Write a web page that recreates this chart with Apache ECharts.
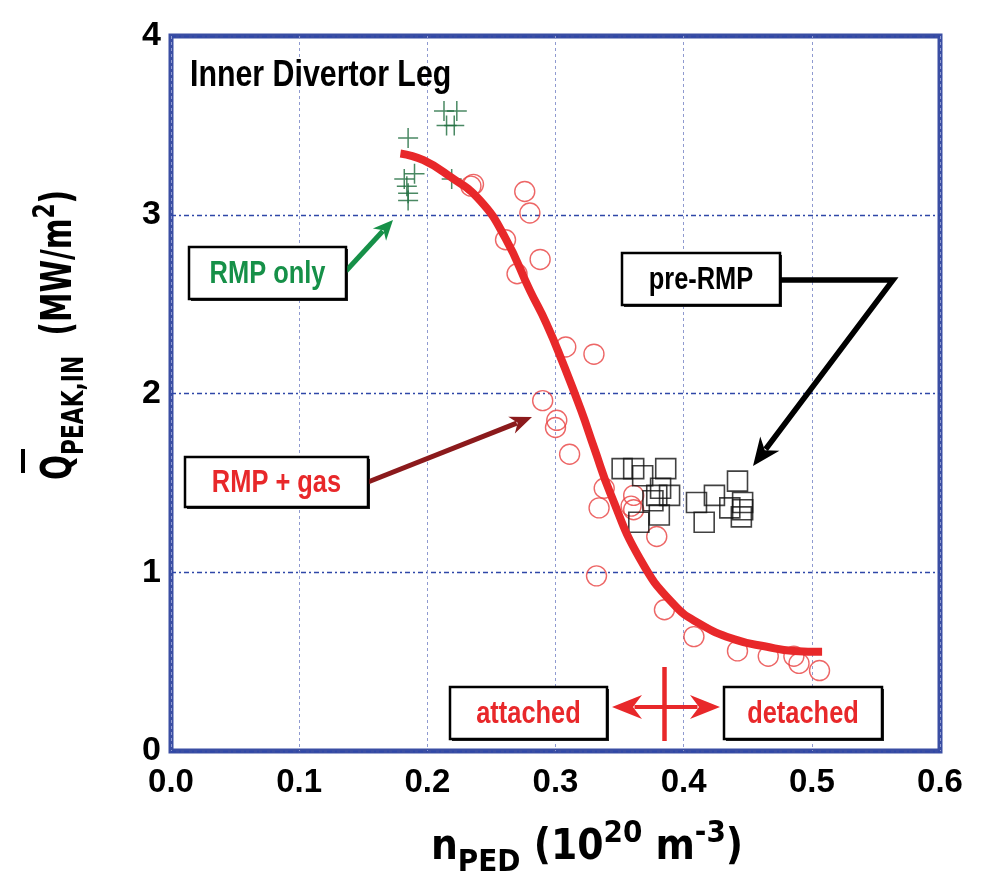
<!DOCTYPE html>
<html>
<head>
<meta charset="utf-8">
<script src="https://cdn.jsdelivr.net/npm/echarts@6/dist/echarts.min.js"></script>
<style>html,body{margin:0;padding:0;background:#fff;}#c{width:981px;height:890px;}</style>
</head>
<body>
<div id="c"></div>
<script>
// ---- data ----
const xTicks = [0.0, 0.1, 0.2, 0.3, 0.4, 0.5, 0.6];
const yTicks = [0, 1, 2, 3, 4];

const rmpOnlyX = [0.185, 0.190, 0.182, 0.184, 0.185, 0.185, 0.213, 0.223, 0.215, 0.221, 0.219];
const rmpOnlyY = [3.43, 3.23, 3.20, 3.16, 3.12, 3.08, 3.58, 3.58, 3.50, 3.50, 3.20];

const rmpGasX = [0.236, 0.234, 0.276, 0.280, 0.261, 0.288, 0.270, 0.308, 0.330, 0.290, 0.301, 0.300, 0.311, 0.338, 0.361, 0.334, 0.359, 0.361, 0.379, 0.332, 0.385, 0.408, 0.442, 0.466, 0.486, 0.490, 0.506];
const rmpGasY = [3.17, 3.16, 3.13, 3.01, 2.86, 2.75, 2.67, 2.26, 2.22, 1.96, 1.85, 1.81, 1.66, 1.47, 1.43, 1.36, 1.37, 1.35, 1.20, 0.98, 0.79, 0.64, 0.56, 0.53, 0.53, 0.49, 0.45];

const preRmpX = [0.352, 0.361, 0.368, 0.386, 0.382, 0.379, 0.389, 0.365, 0.381, 0.376, 0.410, 0.416, 0.424, 0.442, 0.436, 0.446, 0.445, 0.446];
const preRmpY = [1.58, 1.58, 1.54, 1.58, 1.47, 1.43, 1.43, 1.28, 1.32, 1.40, 1.39, 1.28, 1.43, 1.51, 1.36, 1.39, 1.31, 1.35];

const fitX = [0.179, 0.197, 0.218, 0.241, 0.261, 0.280, 0.293, 0.306, 0.320, 0.330, 0.343, 0.366, 0.392, 0.413, 0.439, 0.465, 0.486, 0.508];
const fitY = [3.343, 3.305, 3.212, 3.081, 2.868, 2.577, 2.390, 2.166, 1.905, 1.699, 1.438, 1.074, 0.822, 0.710, 0.626, 0.583, 0.560, 0.555];

const titleText = 'Inner Divertor Leg';
const labelRmpOnly = 'RMP only';
const labelRmpGas = 'RMP + gas';
const labelPre = 'pre-RMP';
const labelAtt = 'attached';
const labelDet = 'detached';

// ---- styling ----
const FF = "'Liberation Sans', Arial, sans-serif";
const FT = "'DejaVu Sans Condensed', 'Liberation Sans', sans-serif";
const RED = '#e8282a';
const GREEN = '#169048';
const DARKRED = '#8b1a1c';
const BLUE = '#3a4ea3';

const zip = (a, b) => a.map((v, i) => [v, b[i]]);

function arrowHead(x1, y1, x2, y2, len, half, color) {
  const dx = x2 - x1, dy = y2 - y1, L = Math.hypot(dx, dy);
  const ux = dx / L, uy = dy / L, px = -uy, py = ux;
  const bx = x2 - ux * len, by = y2 - uy * len;
  const nx = x2 - ux * len * 0.7, ny = y2 - uy * len * 0.7;
  return {
    type: 'polygon', z: 100,
    shape: { points: [[x2, y2], [bx + px * half, by + py * half], [nx, ny], [bx - px * half, by - py * half]] },
    style: { fill: color }
  };
}
function arrow(points, color, w, len, half) {
  const n = points.length;
  const [x1, y1] = points[n - 2], [x2, y2] = points[n - 1];
  const L = Math.hypot(x2 - x1, y2 - y1);
  const ex = x2 - (x2 - x1) / L * len * 0.75, ey = y2 - (y2 - y1) / L * len * 0.75;
  const pts = points.slice(0, n - 1).concat([[ex, ey]]);
  return [
    { type: 'polyline', z: 100, shape: { points: pts }, style: { stroke: color, lineWidth: w, lineJoin: 'miter' } },
    arrowHead(x1, y1, x2, y2, len, half, color)
  ];
}
function box(x1, y1, x2, y2, text, color) {
  return [
    { type: 'rect', z: 100, shape: { x: x1 + 2, y: y1 + 2, width: x2 - x1, height: y2 - y1 }, style: { fill: '#222' } },
    { type: 'rect', z: 101, shape: { x: x1, y: y1, width: x2 - x1, height: y2 - y1 }, style: { fill: '#fff', stroke: '#000', lineWidth: 2.5 } },
    { type: 'text', z: 102, x: (x1 + x2) / 2, y: (y1 + y2) / 2 + 1, scaleX: 0.82,
      style: { text: text, fill: color, font: 'bold 31px ' + FF, align: 'center', verticalAlign: 'middle' } }
  ];
}

const richMain = { fontSize: 42, fontWeight: 'bold', fontFamily: FT, lineHeight: 60, verticalAlign: 'middle', fill: '#000' };
const richSub = { fontSize: 31, fontWeight: 'bold', fontFamily: FT, lineHeight: 24, verticalAlign: 'bottom', fill: '#000' };
const richSup = { fontSize: 31, fontWeight: 'bold', fontFamily: FT, lineHeight: 24, verticalAlign: 'top', fill: '#000' };

const graphics = [].concat(
  [{ type: 'text', z: 100, x: 190, y: 57, scaleX: 0.82, style: { text: titleText, fill: '#000', font: 'bold 37px ' + FF, align: 'left', verticalAlign: 'top' } }],
  box(189, 247, 346, 299, labelRmpOnly, GREEN),
  box(185, 457, 368, 507, labelRmpGas, RED),
  box(622, 253, 780, 305, labelPre, '#000'),
  box(450, 687, 607, 739, labelAtt, RED),
  box(724, 687, 882, 739, labelDet, RED),
  arrow([[346, 271], [393, 220]], GREEN, 5, 20, 9),
  arrow([[368, 482], [532, 417]], DARKRED, 5, 22, 9),
  arrow([[780, 280], [893, 280], [753, 466]], '#000', 5.5, 28, 12),
  arrow([[666, 707], [612, 707]], RED, 4, 30, 12),
  arrow([[662, 707], [720, 707]], RED, 4, 30, 12),
  [{ type: 'line', z: 100, shape: { x1: 664.5, y1: 667, x2: 664.5, y2: 741 }, style: { stroke: RED, lineWidth: 4.5 } }],
  // axis titles
  [{ type: 'text', z: 100, x: 587, y: 848,
     style: { text: '{m|n}{s|PED}{m| (10}{p|20}{m| m}{p|-3}{m|)}', align: 'center', verticalAlign: 'middle',
              rich: { m: richMain, s: richSub, p: richSup } } },
   { type: 'text', z: 100, x: 60, y: 335, rotation: Math.PI / 2, scaleX: 0.78,
     style: { text: '{m|Q}{s|PEAK,IN}{m|  (MW/m}{p|2}{m|)}', align: 'center', verticalAlign: 'middle',
              rich: { m: richMain, s: richSub, p: richSup } } },
   { type: 'line', z: 100, shape: { x1: 23, y1: 449, x2: 23, y2: 473 }, style: { stroke: '#000', lineWidth: 4 } }]
);

const chart = echarts.init(document.getElementById('c'), null, { renderer: 'canvas' });
chart.setOption({
  backgroundColor: '#fff',
  animation: false,
  grid: { left: 171, right: 41, top: 36, bottom: 139, show: true, borderColor: BLUE, borderWidth: 5, backgroundColor: 'transparent' },
  xAxis: {
    type: 'value', min: xTicks[0], max: xTicks[xTicks.length - 1], interval: 0.1,
    axisLine: { show: false }, axisTick: { show: false },
    axisLabel: { margin: 15, color: '#000', fontSize: 33, fontWeight: 'bold', fontFamily: FF,
                 formatter: v => v.toFixed(1) },
    splitLine: { show: true, lineStyle: { color: '#8f9ad0', width: 1, type: [3, 3] } }
  },
  yAxis: {
    type: 'value', min: yTicks[0], max: yTicks[yTicks.length - 1], interval: 1,
    axisLine: { show: false }, axisTick: { show: false },
    axisLabel: { margin: 10, color: '#000', fontSize: 34, fontWeight: 'bold', fontFamily: FF },
    splitLine: { show: true, lineStyle: { color: '#2f47a8', width: 1.3, type: [5, 3, 2, 3] } }
  },
  series: [
    { name: 'RMP + gas', type: 'scatter', data: zip(rmpGasX, rmpGasY), symbol: 'circle', symbolSize: 20,
      itemStyle: { color: 'rgba(0,0,0,0)', borderColor: '#e84040', borderWidth: 1.4 }, z: 2 },
    { name: 'pre-RMP', type: 'scatter', data: zip(preRmpX, preRmpY), symbol: 'rect', symbolSize: 20,
      itemStyle: { color: 'rgba(0,0,0,0)', borderColor: '#111', borderWidth: 1.6 }, z: 3 },
    { name: 'RMP only', type: 'scatter', data: zip(rmpOnlyX, rmpOnlyY), symbol: 'path://M0,10L20,10M10,0L10,20', symbolSize: 20,
      itemStyle: { color: 'none', borderColor: '#1d6b3c', borderWidth: 1.5 }, z: 4 },
    { name: 'fit', type: 'line', data: zip(fitX, fitY), smooth: 0.5, symbol: 'none',
      lineStyle: { color: RED, width: 8, cap: 'butt' }, z: 5 }
  ],
  graphic: { elements: graphics }
});
</script>
</body>
</html>
